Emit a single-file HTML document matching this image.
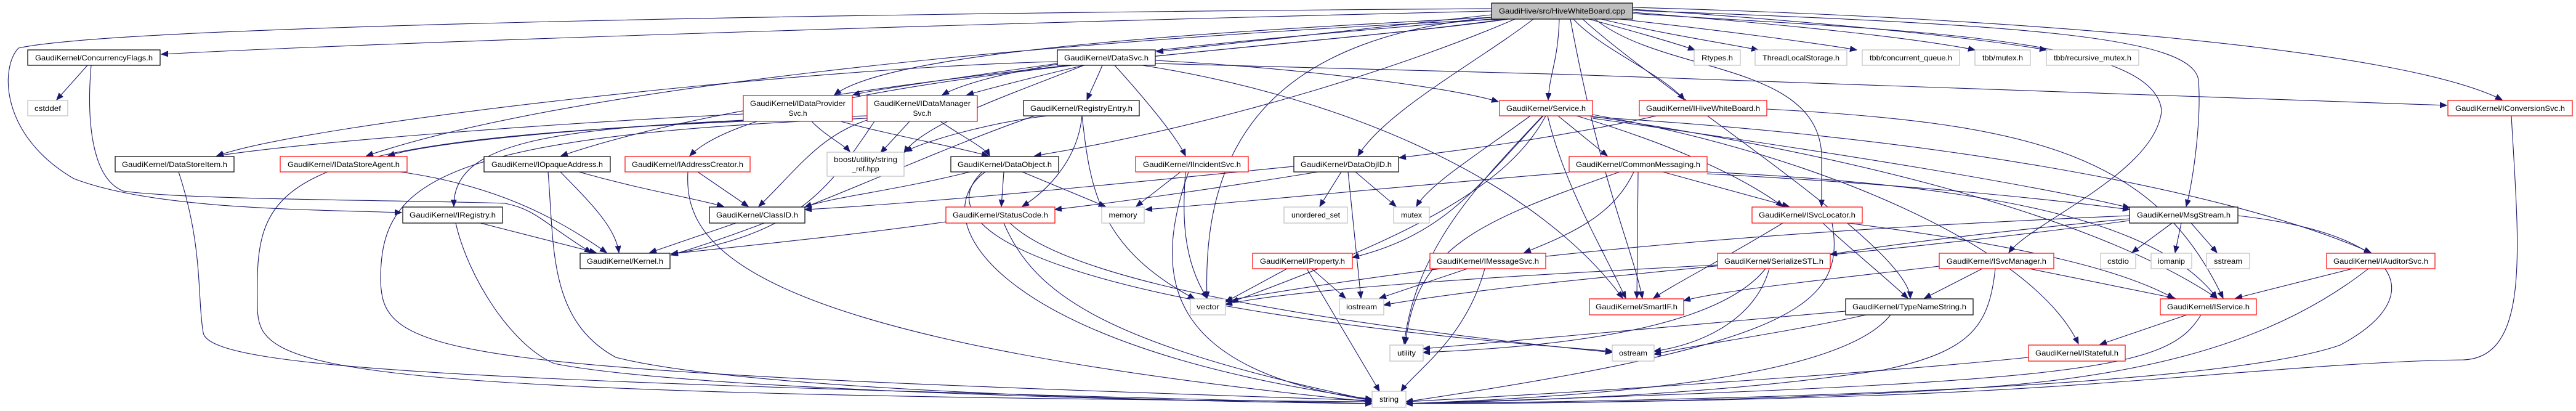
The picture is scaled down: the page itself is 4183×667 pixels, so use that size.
<!DOCTYPE html>
<html><head><meta charset="utf-8"><style>
html,body{margin:0;padding:0;background:#fff;}
svg{display:block;}
text{font-family:"Liberation Sans",sans-serif;font-size:12px;fill:#000;}
.e{fill:none;stroke:#191970;stroke-width:1.1;marker-end:url(#a);}
.k{fill:#fff;stroke:#000;stroke-width:1.2;}
.r{fill:#fff;stroke:#ff0000;stroke-width:1.2;}
.g{fill:#fff;stroke:#bfbfbf;stroke-width:1.2;}
</style></head><body>
<svg width="4183" height="667" viewBox="0 0 4183 667" xmlns="http://www.w3.org/2000/svg">
<defs><marker id="a" markerUnits="userSpaceOnUse" markerWidth="12" markerHeight="10" refX="11" refY="4.5" orient="auto"><path d="M0,0 L11,4.5 L0,9 z" fill="#191970" stroke="#191970"/></marker></defs>
<g>
<path class="e" d="M2422,18 C1500,40 600,70 262,88"/>
<path class="e" d="M2422,14 C1500,20 200,40 30,78 C0,110 0,220 120,290 C250,340 500,340 652,345"/>
<path class="e" d="M2422,24 C2200,50 2000,70 1878,84"/>
<path class="e" d="M2425,28 C2000,50 1450,80 1355,154"/>
<path class="e" d="M2430,30 C2100,60 1650,90 1530,154"/>
<path class="e" d="M2440,31 C1600,70 900,150 595,253"/>
<path class="e" d="M2445,31 C2100,80 1300,120 911,253"/>
<path class="e" d="M2450,31 C2100,80 1250,120 1120,253"/>
<path class="e" d="M2460,31 C2300,100 2000,200 1680,253"/>
<path class="e" d="M2490,31 C2400,100 2250,180 2205,253"/>
<path class="e" d="M2532,31 C2530,100 2516,120 2514,162"/>
<path class="e" d="M2555,31 C2600,80 2700,120 2735,162"/>
<path class="e" d="M2580,31 C2650,50 2720,70 2752,81"/>
<path class="e" d="M2600,31 C2700,55 2800,70 2855,81"/>
<path class="e" d="M2630,31 C2800,50 2950,70 3015,81"/>
<path class="e" d="M2651,20 C2900,40 3100,60 3207,81"/>
<path class="e" d="M2651,15 C2950,35 3200,60 3323,81"/>
<path class="e" d="M2651,12 C3300,30 3900,80 4063,162"/>
<path class="e" d="M2651,17 C3300,40 3560,60 3570,130 C3575,200 3560,300 3550,335"/>
<path class="e" d="M2651,22 C3100,50 3500,60 3510,180 C3500,280 3300,360 3262,410"/>
<path class="e" d="M2590,31 C2700,120 2950,100 2958,250 L2958,335"/>
<path class="e" d="M2570,31 C2700,150 3100,400 3102,484"/>
<path class="e" d="M2550,31 C2600,300 2650,400 2667,484"/>
<path class="e" d="M2422,28 C2100,60 1950,200 1960,484"/>
<path class="e" d="M1717,100 C1300,110 500,200 352,253"/>
<path class="e" d="M1717,103 C1600,120 1420,145 1385,154"/>
<path class="e" d="M1760,106 C1700,120 1620,140 1570,154"/>
<path class="e" d="M1790,106 C1780,130 1770,150 1765,162"/>
<path class="e" d="M1810,106 C1850,150 1910,220 1925,253"/>
<path class="e" d="M1876,98 C2100,110 2350,140 2433,165"/>
<path class="e" d="M1876,103 C2600,120 3500,150 3973,171"/>
<path class="e" d="M1855,106 C2200,160 2500,300 2635,484"/>
<path class="e" d="M1760,106 C1650,150 1500,200 1468,248"/>
<path class="e" d="M1318,197 C1340,220 1370,235 1380,246"/>
<path class="e" d="M1365,197 C1450,220 1560,240 1605,253"/>
<path class="e" d="M1207,185 C900,200 500,230 352,253"/>
<path class="e" d="M1207,195 C900,210 735,230 737,335"/>
<path class="e" d="M1207,197 C420,230 415,300 418,500 C420,600 500,640 2228,652"/>
<path class="e" d="M1477,197 L1430,248"/>
<path class="e" d="M1527,197 C1560,220 1600,240 1607,253"/>
<path class="e" d="M1408,195 C1330,220 1290,280 1232,335"/>
<path class="e" d="M1420,197 C1350,300 1300,380 1090,412"/>
<path class="e" d="M1408,188 C1000,200 700,230 630,253"/>
<path class="e" d="M1408,192 C700,220 620,300 618,450 C618,580 700,600 2228,650"/>
<path class="e" d="M1700,188 C1600,200 1500,230 1470,246"/>
<path class="e" d="M1757,188 C1750,260 1700,310 1660,335"/>
<path class="e" d="M1757,188 C1770,300 1780,400 1940,485"/>
<path class="e" d="M1680,188 C1500,250 1300,350 1090,414"/>
<path class="e" d="M1133,279 L1215,335"/>
<path class="e" d="M1117,279 C1110,400 1200,550 2228,652"/>
<path class="e" d="M290,279 C330,400 320,480 330,540 C340,600 800,620 2228,655"/>
<path class="e" d="M650,279 C800,300 900,350 985,410"/>
<path class="e" d="M910,279 C960,330 1000,370 1005,410"/>
<path class="e" d="M940,279 C1050,310 1120,320 1175,335"/>
<path class="e" d="M890,279 C900,400 890,520 1000,580 C1200,630 1800,650 2228,655"/>
<path class="e" d="M780,362 L968,410"/>
<path class="e" d="M740,362 C760,450 830,560 900,590 C1100,630 1800,650 2228,655"/>
<path class="e" d="M142,106 L92,162"/>
<path class="e" d="M148,106 C140,200 150,290 200,310 C300,325 700,325 820,330 C870,340 880,360 960,410"/>
<path class="e" d="M1195,362 L1055,410"/>
<path class="e" d="M1536,360 C1400,380 1200,400 1090,412"/>
<path class="e" d="M1640,362 C1700,420 1900,500 2618,572"/>
<path class="e" d="M1630,362 C1680,480 1800,560 2228,650"/>
<path class="e" d="M1575,279 C1450,310 1350,320 1307,336"/>
<path class="e" d="M1630,279 L1626,335"/>
<path class="e" d="M1660,279 L1795,335"/>
<path class="e" d="M1600,279 C1500,350 1600,560 2228,648"/>
<path class="e" d="M1595,279 C1500,370 1700,500 2618,570"/>
<path class="e" d="M1917,279 L1845,335"/>
<path class="e" d="M1925,279 C1920,350 1920,420 1960,484"/>
<path class="e" d="M1930,279 C1870,450 1890,600 2228,650"/>
<path class="e" d="M2530,188 L2610,253"/>
<path class="e" d="M2560,188 C2700,230 2820,280 2895,335"/>
<path class="e" d="M2506,188 C2400,300 2350,380 2196,418"/>
<path class="e" d="M2485,188 C2400,250 2320,300 2300,335"/>
<path class="e" d="M2513,188 C2540,300 2600,400 2640,484"/>
<path class="e" d="M2580,188 C3000,250 3400,350 3600,484"/>
<path class="e" d="M2586,190 C3100,220 3600,300 3850,410"/>
<path class="e" d="M2586,192 C3000,250 3300,300 3458,337"/>
<path class="e" d="M2510,188 C2450,300 2300,380 2000,490"/>
<path class="e" d="M2505,188 C2400,300 2300,400 2280,558"/>
<path class="e" d="M2586,186 C2950,250 3300,400 3375,558"/>
<path class="e" d="M2690,188 C2500,230 2320,250 2272,256"/>
<path class="e" d="M2869,177 C3300,200 3500,250 3610,484"/>
<path class="e" d="M2178,279 L2143,335"/>
<path class="e" d="M2201,279 L2267,335"/>
<path class="e" d="M2189,279 L2210,484"/>
<path class="e" d="M2101,270 C1800,300 1500,330 1307,340"/>
<path class="e" d="M2140,279 C1950,310 1800,330 1713,340"/>
<path class="e" d="M2700,279 L2905,335"/>
<path class="e" d="M2660,279 L2658,484"/>
<path class="e" d="M2653,279 C2620,350 2550,380 2475,410"/>
<path class="e" d="M2630,279 C2400,360 2300,400 2282,558"/>
<path class="e" d="M2548,280 C2300,300 2000,330 1860,340"/>
<path class="e" d="M2772,282 C3100,300 3300,320 3458,340"/>
<path class="e" d="M2772,279 C3200,300 3500,350 3600,484"/>
<path class="e" d="M2895,362 C2800,420 2720,460 2685,484"/>
<path class="e" d="M2960,362 C3000,400 3050,440 3098,484"/>
<path class="e" d="M3000,362 C3300,400 3450,440 3530,484"/>
<path class="e" d="M2975,362 C3000,500 2900,560 2283,652"/>
<path class="e" d="M2090,436 L1990,490"/>
<path class="e" d="M2130,436 L2185,484"/>
<path class="e" d="M2122,436 L2240,635"/>
<path class="e" d="M2383,436 L2240,484"/>
<path class="e" d="M2411,436 C2380,550 2300,600 2275,635"/>
<path class="e" d="M2789,430 C2400,450 2100,470 1990,494"/>
<path class="e" d="M2873,436 C2850,520 2760,560 2686,570"/>
<path class="e" d="M2867,436 C2800,520 2600,560 2311,572"/>
<path class="e" d="M2997,505 C2700,530 2400,560 2311,566"/>
<path class="e" d="M3030,511 C2900,540 2750,560 2686,575"/>
<path class="e" d="M3070,511 C3000,600 2700,640 2283,655"/>
<path class="e" d="M3527,362 L3462,410"/>
<path class="e" d="M3542,362 L3532,410"/>
<path class="e" d="M3558,362 L3600,410"/>
<path class="e" d="M3458,355 C3200,380 3050,400 2972,413"/>
<path class="e" d="M3458,350 C3000,370 2500,400 1990,488"/>
<path class="e" d="M3634,350 C3900,380 3950,480 3800,560 C3600,630 2800,650 2283,655"/>
<path class="e" d="M3458,358 C3000,420 2500,450 2247,495"/>
<path class="e" d="M3219,436 L3125,484"/>
<path class="e" d="M3295,436 L3532,484"/>
<path class="e" d="M3149,432 C3000,450 2800,470 2734,488"/>
<path class="e" d="M3240,436 C3230,530 3200,570 3060,600 C2800,640 2500,650 2283,655"/>
<path class="e" d="M3820,436 L3630,484"/>
<path class="e" d="M3846,436 C3700,550 3500,610 3200,630 C2900,650 2500,655 2283,655"/>
<path class="e" d="M3551,511 L3410,559"/>
<path class="e" d="M3574,511 C3520,600 3400,620 2283,655"/>
<path class="e" d="M3294,580 C3000,610 2500,640 2283,652"/>
<path class="e" d="M4078,188 C4090,400 4110,580 4000,584 C3800,586 3500,620 3200,635 C2900,650 2500,655 2283,655"/>
</g>
<g>
<rect x="2422" y="5" width="229" height="26" fill="#bfbfbf" stroke="#000" stroke-width="1.2"/><text x="2536.5" y="22" text-anchor="middle" textLength="205" lengthAdjust="spacingAndGlyphs">GaudiHive/src/HiveWhiteBoard.cpp</text>

<rect class="k" x="45" y="81" width="215" height="25"/><text x="152.5" y="98" text-anchor="middle" textLength="191" lengthAdjust="spacingAndGlyphs">GaudiKernel/ConcurrencyFlags.h</text>
<rect class="k" x="1717" y="81" width="159" height="25"/><text x="1796.5" y="98" text-anchor="middle" textLength="137" lengthAdjust="spacingAndGlyphs">GaudiKernel/DataSvc.h</text>
<rect class="g" x="2751" y="81" width="75" height="25"/><text x="2788.5" y="98" text-anchor="middle" textLength="51" lengthAdjust="spacingAndGlyphs">Rtypes.h</text>
<rect class="g" x="2850" y="81" width="149" height="25"/><text x="2924.5" y="98" text-anchor="middle" textLength="125" lengthAdjust="spacingAndGlyphs">ThreadLocalStorage.h</text>
<rect class="g" x="3024" y="81" width="158" height="25"/><text x="3103" y="98" text-anchor="middle" textLength="134" lengthAdjust="spacingAndGlyphs">tbb/concurrent_queue.h</text>
<rect class="g" x="3207" y="81" width="90" height="25"/><text x="3252" y="98" text-anchor="middle" textLength="66" lengthAdjust="spacingAndGlyphs">tbb/mutex.h</text>
<rect class="g" x="3323" y="81" width="150" height="25"/><text x="3398" y="98" text-anchor="middle" textLength="126" lengthAdjust="spacingAndGlyphs">tbb/recursive_mutex.h</text>

<rect class="g" x="45" y="163" width="65" height="25"/><text x="77.5" y="180" text-anchor="middle" textLength="43" lengthAdjust="spacingAndGlyphs">cstddef</text>
<rect class="r" x="1207" y="155" width="177" height="42"/><text x="1295.5" y="172" text-anchor="middle" textLength="155" lengthAdjust="spacingAndGlyphs">GaudiKernel/IDataProvider</text><text x="1295.5" y="188" text-anchor="middle">Svc.h</text>
<rect class="r" x="1408" y="155" width="179" height="42"/><text x="1497.5" y="172" text-anchor="middle" textLength="157" lengthAdjust="spacingAndGlyphs">GaudiKernel/IDataManager</text><text x="1497.5" y="188" text-anchor="middle">Svc.h</text>
<rect class="k" x="1662" y="163" width="188" height="25"/><text x="1756" y="180" text-anchor="middle" textLength="166" lengthAdjust="spacingAndGlyphs">GaudiKernel/RegistryEntry.h</text>
<rect class="r" x="2435" y="163" width="151" height="25"/><text x="2510.5" y="180" text-anchor="middle" textLength="129" lengthAdjust="spacingAndGlyphs">GaudiKernel/Service.h</text>
<rect class="r" x="2662" y="163" width="207" height="25"/><text x="2765.5" y="180" text-anchor="middle" textLength="185" lengthAdjust="spacingAndGlyphs">GaudiKernel/IHiveWhiteBoard.h</text>
<rect class="r" x="3975" y="163" width="202" height="25"/><text x="4076" y="180" text-anchor="middle" textLength="178" lengthAdjust="spacingAndGlyphs">GaudiKernel/IConversionSvc.h</text>

<rect class="k" x="187" y="254" width="193" height="25"/><text x="283.5" y="271" text-anchor="middle" textLength="171" lengthAdjust="spacingAndGlyphs">GaudiKernel/DataStoreItem.h</text>
<rect class="r" x="455" y="254" width="206" height="25"/><text x="558" y="271" text-anchor="middle" textLength="182" lengthAdjust="spacingAndGlyphs">GaudiKernel/IDataStoreAgent.h</text>
<rect class="k" x="786" y="254" width="205" height="25"/><text x="888.5" y="271" text-anchor="middle" textLength="181" lengthAdjust="spacingAndGlyphs">GaudiKernel/IOpaqueAddress.h</text>
<rect class="r" x="1015" y="254" width="203" height="25"/><text x="1116.5" y="271" text-anchor="middle" textLength="181" lengthAdjust="spacingAndGlyphs">GaudiKernel/IAddressCreator.h</text>
<rect class="g" x="1343" y="247" width="125" height="39"/><text x="1405.5" y="263" text-anchor="middle" textLength="103" lengthAdjust="spacingAndGlyphs">boost/utility/string</text><text x="1405.5" y="278" text-anchor="middle">_ref.hpp</text>
<rect class="k" x="1544" y="254" width="175" height="25"/><text x="1631.5" y="271" text-anchor="middle" textLength="153" lengthAdjust="spacingAndGlyphs">GaudiKernel/DataObject.h</text>
<rect class="r" x="1844" y="254" width="183" height="25"/><text x="1935.5" y="271" text-anchor="middle" textLength="159" lengthAdjust="spacingAndGlyphs">GaudiKernel/IIncidentSvc.h</text>
<rect class="k" x="2101" y="254" width="170" height="25"/><text x="2186" y="271" text-anchor="middle" textLength="148" lengthAdjust="spacingAndGlyphs">GaudiKernel/DataObjID.h</text>
<rect class="r" x="2548" y="254" width="224" height="25"/><text x="2660" y="271" text-anchor="middle" textLength="202" lengthAdjust="spacingAndGlyphs">GaudiKernel/CommonMessaging.h</text>

<rect class="k" x="654" y="336" width="162" height="26"/><text x="735" y="353" text-anchor="middle" textLength="140" lengthAdjust="spacingAndGlyphs">GaudiKernel/IRegistry.h</text>
<rect class="k" x="1152" y="336" width="155" height="26"/><text x="1229.5" y="353" text-anchor="middle" textLength="133" lengthAdjust="spacingAndGlyphs">GaudiKernel/ClassID.h</text>
<rect class="r" x="1536" y="336" width="177" height="26"/><text x="1624.5" y="353" text-anchor="middle" textLength="155" lengthAdjust="spacingAndGlyphs">GaudiKernel/StatusCode.h</text>
<rect class="g" x="1789" y="336" width="69" height="26"/><text x="1823.5" y="353" text-anchor="middle" textLength="46" lengthAdjust="spacingAndGlyphs">memory</text>
<rect class="g" x="2085" y="336" width="103" height="26"/><text x="2136.5" y="353" text-anchor="middle" textLength="79" lengthAdjust="spacingAndGlyphs">unordered_set</text>
<rect class="g" x="2263" y="336" width="58" height="26"/><text x="2292" y="353" text-anchor="middle" textLength="34" lengthAdjust="spacingAndGlyphs">mutex</text>
<rect class="r" x="2845" y="336" width="179" height="26"/><text x="2934.5" y="353" text-anchor="middle" textLength="157" lengthAdjust="spacingAndGlyphs">GaudiKernel/ISvcLocator.h</text>
<rect class="k" x="3458" y="336" width="176" height="26"/><text x="3546" y="353" text-anchor="middle" textLength="152" lengthAdjust="spacingAndGlyphs">GaudiKernel/MsgStream.h</text>

<rect class="k" x="942" y="411" width="146" height="25"/><text x="1015" y="428" text-anchor="middle" textLength="124" lengthAdjust="spacingAndGlyphs">GaudiKernel/Kernel.h</text>
<rect class="r" x="2034" y="411" width="162" height="25"/><text x="2115" y="428" text-anchor="middle" textLength="138" lengthAdjust="spacingAndGlyphs">GaudiKernel/IProperty.h</text>
<rect class="r" x="2322" y="411" width="188" height="25"/><text x="2416" y="428" text-anchor="middle" textLength="166" lengthAdjust="spacingAndGlyphs">GaudiKernel/IMessageSvc.h</text>
<rect class="r" x="2789" y="411" width="183" height="25"/><text x="2880.5" y="428" text-anchor="middle" textLength="161" lengthAdjust="spacingAndGlyphs">GaudiKernel/SerializeSTL.h</text>
<rect class="r" x="3149" y="411" width="186" height="25"/><text x="3242" y="428" text-anchor="middle" textLength="162" lengthAdjust="spacingAndGlyphs">GaudiKernel/ISvcManager.h</text>
<rect class="g" x="3411" y="411" width="57" height="25"/><text x="3439.5" y="428" text-anchor="middle" textLength="35" lengthAdjust="spacingAndGlyphs">cstdio</text>
<rect class="g" x="3493" y="411" width="66" height="25"/><text x="3526" y="428" text-anchor="middle" textLength="44" lengthAdjust="spacingAndGlyphs">iomanip</text>
<rect class="g" x="3583" y="411" width="70" height="25"/><text x="3618" y="428" text-anchor="middle" textLength="46" lengthAdjust="spacingAndGlyphs">sstream</text>
<rect class="r" x="3778" y="411" width="176" height="25"/><text x="3866" y="428" text-anchor="middle" textLength="154" lengthAdjust="spacingAndGlyphs">GaudiKernel/IAuditorSvc.h</text>

<rect class="g" x="1933" y="485" width="57" height="26"/><text x="1961.5" y="502" text-anchor="middle" textLength="37" lengthAdjust="spacingAndGlyphs">vector</text>
<rect class="g" x="2175" y="485" width="72" height="26"/><text x="2211" y="502" text-anchor="middle" textLength="50" lengthAdjust="spacingAndGlyphs">iostream</text>
<rect class="r" x="2581" y="485" width="153" height="26"/><text x="2657.5" y="502" text-anchor="middle" textLength="133" lengthAdjust="spacingAndGlyphs">GaudiKernel/SmartIF.h</text>
<rect class="k" x="2997" y="485" width="207" height="26"/><text x="3100.5" y="502" text-anchor="middle" textLength="185" lengthAdjust="spacingAndGlyphs">GaudiKernel/TypeNameString.h</text>
<rect class="r" x="3508" y="485" width="156" height="26"/><text x="3586" y="502" text-anchor="middle" textLength="134" lengthAdjust="spacingAndGlyphs">GaudiKernel/IService.h</text>

<rect class="g" x="2257" y="560" width="54" height="26"/><text x="2284" y="577" text-anchor="middle" textLength="30" lengthAdjust="spacingAndGlyphs">utility</text>
<rect class="g" x="2618" y="560" width="68" height="26"/><text x="2652" y="577" text-anchor="middle" textLength="46" lengthAdjust="spacingAndGlyphs">ostream</text>
<rect class="r" x="3294" y="560" width="157" height="26"/><text x="3372.5" y="577" text-anchor="middle" textLength="135" lengthAdjust="spacingAndGlyphs">GaudiKernel/IStateful.h</text>

<rect class="g" x="2228" y="635" width="55" height="26"/><text x="2255.5" y="652" text-anchor="middle" textLength="31" lengthAdjust="spacingAndGlyphs">string</text>
</g>
</svg>
</body></html>
